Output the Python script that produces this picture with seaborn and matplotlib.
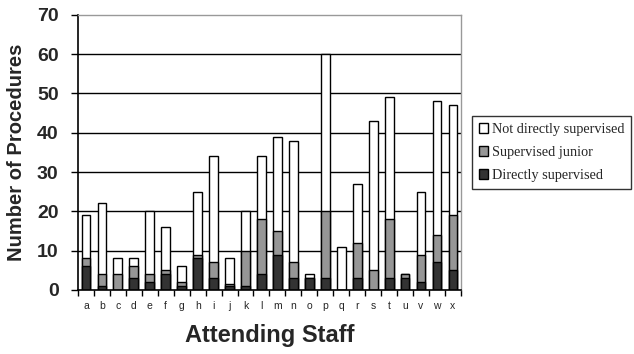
import matplotlib
matplotlib.use("Agg")
import matplotlib.pyplot as plt
import numpy as np
import pandas as pd
import seaborn as sns
from matplotlib.patches import Patch
from matplotlib.ticker import FixedLocator

staff = list("abcdefghijklmnopqrstuvwx")
directly = [6, 1, 0, 3, 2, 4, 1, 8, 3, 1, 1, 4, 9, 3, 3, 3, 0, 3, 0, 3, 3, 2, 7, 5]
junior = [2, 3, 4, 3, 2, 1, 1, 1, 4, 0.5, 9, 14, 6, 4, 0, 17, 0, 9, 5, 15, 1, 7, 7, 14]
not_direct = [11, 18, 4, 2, 16, 11, 4, 16, 27, 6.5, 10, 16, 24, 31, 1, 40, 11, 15, 38, 31, 0, 16, 34, 28]

df = pd.DataFrame({"staff": staff, "direct": directly, "junior": junior, "not_direct": not_direct})
df["lvl1"] = df["direct"]
df["lvl2"] = df["direct"] + df["junior"]
df["lvl3"] = df["lvl2"] + df["not_direct"]

sns.set_style("white")
fig = plt.figure(figsize=(6.34, 3.54), dpi=100)
ax = fig.add_axes([0.123, 0.181, 0.604, 0.777])

layers = [("lvl3", "#ffffff"), ("lvl2", "#969696"), ("lvl1", "#333333")]
for col, color in layers:
    sns.barplot(data=df, x="staff", y=col, color=color, width=0.55,
                edgecolor="black", linewidth=1.0, ax=ax, saturation=1)

ax.set_ylim(0, 70)
ax.set_xlim(-0.5, len(staff) - 0.5)
ax.set_yticks(range(0, 71, 10))
for yv in range(10, 70, 10):
    ax.axhline(yv, color="black", linewidth=1.0, zorder=0)

for side in ["top", "right"]:
    ax.spines[side].set_color("#999999")
    ax.spines[side].set_linewidth(1.0)
for side in ["left", "bottom"]:
    ax.spines[side].set_color("black")
    ax.spines[side].set_linewidth(1.2)

ax.xaxis.set_minor_locator(FixedLocator(np.arange(-0.5, len(staff), 1.0)))
ax.tick_params(axis="x", which="major", length=0, pad=8, labelsize=7.5)
ax.tick_params(axis="x", which="minor", length=4, width=1, color="black", direction="out", bottom=True)
ax.tick_params(axis="y", length=5, width=1, color="black", direction="out", left=True, labelsize=14, pad=9)
for lbl in ax.get_yticklabels():
    lbl.set_fontweight("bold")
    lbl.set_fontfamily("Liberation Sans")
for lbl in ax.get_xticklabels():
    lbl.set_fontfamily("Liberation Sans")

ax.set_xlabel("Attending Staff", fontsize=17, fontweight="bold", family="Liberation Sans", labelpad=9)
ax.set_ylabel("Number of Procedures", fontsize=14.5, fontweight="bold", family="Liberation Sans", labelpad=8)

handles = [
    Patch(facecolor="#ffffff", edgecolor="black", label="Not directly supervised"),
    Patch(facecolor="#969696", edgecolor="black", label="Supervised junior"),
    Patch(facecolor="#333333", edgecolor="black", label="Directly supervised"),
]
leg = ax.legend(handles=handles, loc="center left", bbox_to_anchor=(1.028, 0.50),
                frameon=True, fancybox=False, edgecolor="black",
                prop={"family": "Liberation Serif", "size": 10.3},
                handlelength=0.65, handleheight=0.65, handletextpad=0.25,
                borderpad=0.5, labelspacing=0.7, borderaxespad=0)
leg.get_frame().set_linewidth(1.0)

fig.savefig("out.png", dpi=100)
